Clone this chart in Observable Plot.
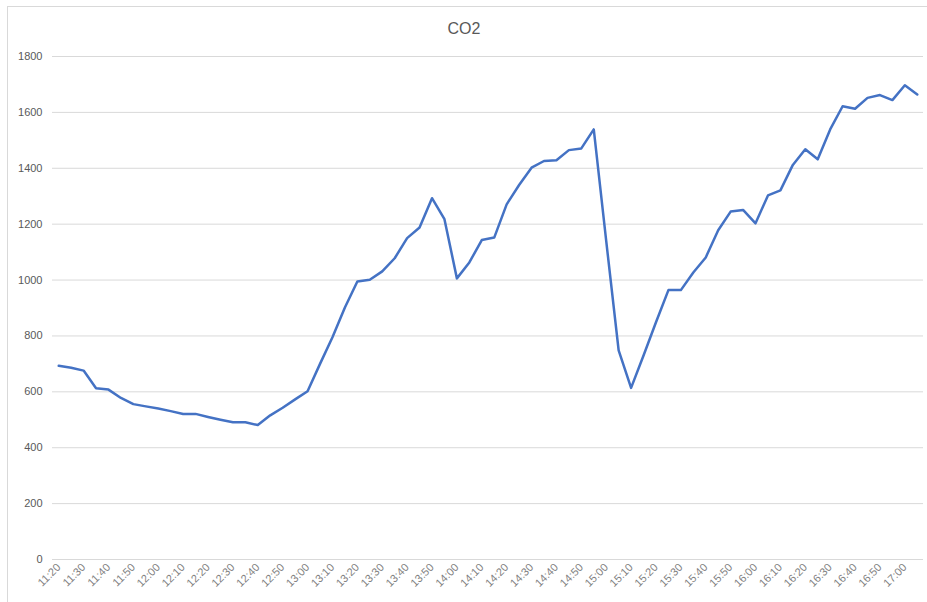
<!DOCTYPE html>
<html>
<head>
<meta charset="utf-8">
<script src="https://cdn.jsdelivr.net/npm/d3@7"></script>
<script src="https://cdn.jsdelivr.net/npm/@observablehq/plot@0.6"></script>
<style>
  html, body { margin: 0; padding: 0; background: #fff; overflow: hidden; }
  #wrap { position: relative; width: 927px; height: 602px; }
  #border { position: absolute; left: 7px; top: 6px; width: 1000px; height: 1000px; border: 1px solid #d9d9d9; box-sizing: border-box; pointer-events: none; }
</style>
</head>
<body>
<div id="wrap"><div id="border"></div></div>
<script>
const title = "CO2";
const times = [
  "11:20","11:25","11:30","11:35","11:40","11:45","11:50","11:55",
  "12:00","12:05","12:10","12:15","12:20","12:25","12:30","12:35",
  "12:40","12:45","12:50","12:55","13:00","13:05","13:10","13:15",
  "13:20","13:25","13:30","13:35","13:40","13:45","13:50","13:55",
  "14:00","14:05","14:10","14:15","14:20","14:25","14:30","14:35",
  "14:40","14:45","14:50","14:55","15:00","15:05","15:10","15:15",
  "15:20","15:25","15:30","15:35","15:40","15:45","15:50","15:55",
  "16:00","16:05","16:10","16:15","16:20","16:25","16:30","16:35",
  "16:40","16:45","16:50","16:55","17:00","17:05"
];
const co2 = [
  693, 686, 676, 613, 608, 578, 556, 548,
  540, 531, 521, 521, 510, 500, 491, 491,
  481, 516, 543, 573, 602, 700, 795, 902,
  995, 1001, 1031, 1078, 1150, 1188, 1293, 1218,
  1006, 1063, 1143, 1152, 1271, 1340, 1402, 1426,
  1429, 1465, 1471, 1539, 1140, 748, 614, 730,
  849, 964, 964, 1027, 1081, 1178, 1245, 1251,
  1203, 1303, 1321, 1412, 1468, 1432, 1539, 1622,
  1613, 1652, 1662, 1644, 1697, 1664
];
const yTicks = [0, 200, 400, 600, 800, 1000, 1200, 1400, 1600, 1800];
const xTicks = times.filter((t, i) => i % 2 === 0);

const data = times.map((t, i) => ({time: t, value: co2[i]}));

const chart = Plot.plot({
  width: 927,
  height: 602,
  marginLeft: 52,
  marginRight: 4,
  marginTop: 56,
  marginBottom: 43,
  style: {fontFamily: "'Liberation Sans', Arial, sans-serif", fontSize: "11px", color: "#595959", background: "transparent", overflow: "visible"},
  x: {type: "point", domain: times, padding: 0.5},
  y: {domain: [0, 1800]},
  marks: [
    Plot.gridY(yTicks, {stroke: "#d9d9d9", strokeOpacity: 1, strokeWidth: 1}),
    Plot.axisY(yTicks, {tickSize: 0, tickPadding: 10, label: null, fill: "#595959", fontSize: 11, tickFormat: d => String(d)}),
    Plot.axisX(xTicks, {tickSize: 0, tickPadding: 6, tickRotate: -45, label: null, fill: "#7f7f7f", fontSize: 11}),
    Plot.line(data, {x: "time", y: "value", stroke: "#4472C4", strokeWidth: 2.5, strokeLinejoin: "round", strokeLinecap: "round"}),
    Plot.text([title], {frameAnchor: "top", dy: -34, dx: -24, fontSize: 16, fill: "#595959", text: d => d})
  ]
});
document.getElementById("wrap").appendChild(chart);
chart.style.position = "absolute";
chart.style.left = "0px";
chart.style.top = "0px";
</script>
</body>
</html>
